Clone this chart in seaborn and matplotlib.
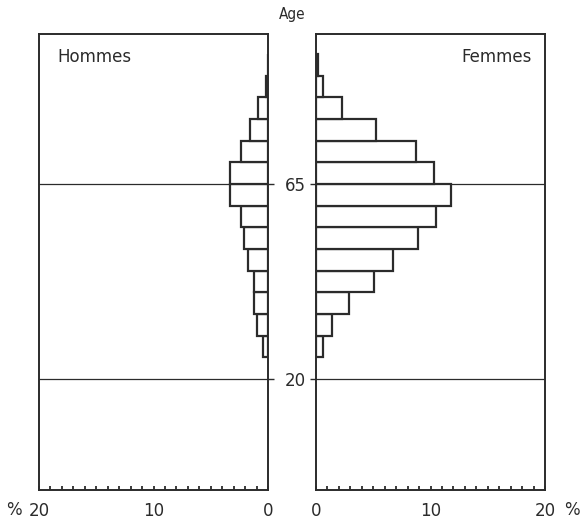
import numpy as np
import matplotlib
matplotlib.use("Agg")
import matplotlib.pyplot as plt
import seaborn as sns

sns.set_style("white")
plt.rcParams['font.family'] = ['DejaVu Sans']

# age groups (lower bound of each 5-year band)
age_start = [25, 30, 35, 40, 45, 50, 55, 60, 65, 70, 75, 80, 85, 90]
men = [0.4, 0.95, 1.25, 1.25, 1.75, 2.1, 2.4, 3.3, 3.3, 2.4, 1.6, 0.9, 0.2, 0.0]
women = [0.6, 1.4, 2.9, 5.1, 6.7, 8.9, 10.5, 11.8, 10.3, 8.7, 5.2, 2.3, 0.65, 0.15]
ref_ages = [20, 65]
x_labels = [0, 10, 20]

edges = age_start + [age_start[-1] + 5]
mids = [a + 2.5 for a in age_start]
ink = "#2b2b2b"

fig = plt.figure(figsize=(5.82, 5.26), dpi=100)
ax_m = fig.add_axes([39 / 582, 36 / 526, 229 / 582, 456 / 526])
ax_f = fig.add_axes([316 / 582, 36 / 526, 229 / 582, 456 / 526])

for ax, vals in ((ax_m, men), (ax_f, women)):
    sns.histplot(y=mids, weights=vals, bins=edges, ax=ax, color="white",
                 edgecolor=ink, linewidth=1.6, alpha=1)
    for a in ref_ages:
        ax.axhline(a, color=ink, lw=0.9, zorder=0)
    ax.set_xlim(0, 20)
    ax.set_ylim(-5.6, 99.6)
    ax.set_xlabel("")
    ax.set_ylabel("")
    ax.set_xticks(x_labels)
    ax.set_xticks(np.arange(0, 21, 1), minor=True)
    ax.tick_params(axis="x", which="both", bottom=True, direction="in",
                   length=3, width=1.3, color=ink, labelsize=12,
                   labelcolor=ink, pad=9)
    for s in ax.spines.values():
        s.set_color(ink)
        s.set_linewidth(1.4)

ax_m.invert_xaxis()
ax_m.yaxis.tick_right()
ax_m.set_yticks(ref_ages)
ax_m.tick_params(axis="y", right=True, left=False, direction="out", length=4,
                 width=1.0, color=ink, labelsize=12, labelcolor=ink, pad=8)
ax_f.set_yticks(ref_ages)
ax_f.tick_params(axis="y", left=True, direction="out", length=4, width=1.0,
                 color=ink, labelleft=False)

ax_m.text(0.08, 0.95, "Hommes", transform=ax_m.transAxes, fontsize=12,
          color=ink, ha="left", va="center")
ax_f.text(0.94, 0.95, "Femmes", transform=ax_f.transAxes, fontsize=12,
          color=ink, ha="right", va="center")

fig.text(292 / 582, 1 - 15 / 526, "Age", fontsize=11, color=ink,
         ha="center", va="center", fontstretch="condensed")
fig.text(14 / 582, 1 - 510 / 526, "%", fontsize=12, color=ink,
         ha="center", va="center")
fig.text(572 / 582, 1 - 510 / 526, "%", fontsize=12, color=ink,
         ha="center", va="center")

fig.savefig("out.png", dpi=100, facecolor="white")
